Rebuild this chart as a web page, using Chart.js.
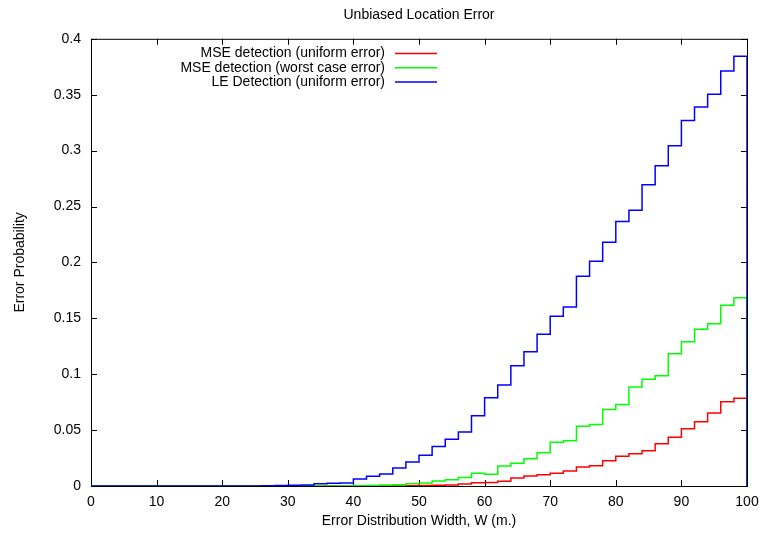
<!DOCTYPE html>
<html>
<head>
<meta charset="utf-8">
<title>Unbiased Location Error</title>
<script src="https://cdn.jsdelivr.net/npm/chart.js@4.4.1/dist/chart.umd.min.js"></script>
<style>
  html, body { margin: 0; padding: 0; background: #fff; }
</style>
</head>
<body>
<canvas id="myChart" width="763" height="536"></canvas>
<script>
// bin edges of the step curves (W in metres), last edge is where the curves drop back to 0
const binEdges = [0, 2, 4, 6, 8, 10, 12, 14, 16, 18, 20, 22, 24, 26, 28, 30, 32, 34, 36, 38,
  40, 42, 44, 46, 48, 50, 52, 54, 56, 58, 60, 62, 64, 66, 68, 70, 72, 74, 76, 78,
  80, 82, 84, 86, 88, 90, 92, 94, 96, 98, 100];

const mseUniform = [0, 0, 0, 0, 0, 0, 0, 0, 0, 0, 0, 0, 0, 0, 0, 0, 0, 0, 0, 0,
  0, 0, 0, 0, 0.0002, 0.0004, 0.0007, 0.001, 0.0018, 0.0028, 0.0032, 0.0043, 0.0072, 0.009, 0.0101, 0.0114, 0.0134, 0.017, 0.0182, 0.0226,
  0.0266, 0.0289, 0.0316, 0.0379, 0.0435, 0.0513, 0.0575, 0.0653, 0.0754, 0.0784, 0];

const mseWorst = [0, 0, 0, 0, 0, 0, 0, 0, 0, 0, 0, 0, 0, 0, 0, 0, 0, 0, 0, 0,
  0.0003, 0.0005, 0.0008, 0.0012, 0.002, 0.0027, 0.0045, 0.0056, 0.0077, 0.0115, 0.0105, 0.018, 0.0203, 0.0244, 0.0298, 0.0391, 0.0405, 0.0534, 0.0549, 0.0685,
  0.0728, 0.0886, 0.0954, 0.0987, 0.1184, 0.1291, 0.1401, 0.1452, 0.1616, 0.1684, 0];

const leUniform = [0, 0, 0, 0, 0, 0, 0, 0, 0, 0, 0, 0, 0, 0.0003, 0.0005, 0.0007, 0.001, 0.0021, 0.0024, 0.0027,
  0.0063, 0.0087, 0.0107, 0.016, 0.0214, 0.0275, 0.0353, 0.0418, 0.0483, 0.0629, 0.079, 0.0903, 0.1076, 0.1201, 0.1357, 0.1518, 0.1601, 0.1876, 0.2011, 0.2181,
  0.2366, 0.2466, 0.2695, 0.2865, 0.3044, 0.327, 0.339, 0.3503, 0.3712, 0.3843, 0];

const seriesNames = ['MSE detection (uniform error)', 'MSE detection (worst case error)', 'LE Detection (uniform error)'];
const seriesColors = ['#ff0000', '#00ff00', '#0000ff'];

const FONT = "'Liberation Sans', Arial, Helvetica, sans-serif";
Chart.defaults.color = '#000';
Chart.defaults.font.family = FONT;
Chart.defaults.font.size = 14;

function toPoints(values) {
  return binEdges.map((x, i) => ({ x: x, y: values[i] }));
}

// gnuplot style frame: box round the plot with inward ticks on all four sides
const gnuplotFrame = {
  id: 'gnuplotFrame',
  beforeDatasetsDraw(chart) {
    const { ctx, chartArea: a, scales: { x, y } } = chart;
    ctx.save();
    ctx.strokeStyle = '#000';
    ctx.lineWidth = 1;
    ctx.beginPath();
    x.ticks.forEach(t => {
      const px = Math.round(x.getPixelForValue(t.value)) + 0.5;
      ctx.moveTo(px, a.bottom); ctx.lineTo(px, a.bottom - 6);
      ctx.moveTo(px, a.top); ctx.lineTo(px, a.top + 6);
    });
    y.ticks.forEach(t => {
      const py = Math.round(y.getPixelForValue(t.value)) + 0.5;
      ctx.moveTo(a.left, py); ctx.lineTo(a.left + 6, py);
      ctx.moveTo(a.right, py); ctx.lineTo(a.right - 6, py);
    });
    ctx.stroke();
    ctx.strokeRect(a.left + 0.5, a.top + 0.5, a.right - a.left, a.bottom - a.top);
    ctx.restore();
  }
};

// key in the top left corner, text right aligned with a line sample after it
const insideKey = {
  id: 'insideKey',
  afterDraw(chart) {
    const ctx = chart.ctx;
    ctx.save();
    ctx.font = '14px ' + FONT;
    ctx.textAlign = 'right';
    ctx.textBaseline = 'middle';
    ctx.lineWidth = 1.5;
    chart.data.datasets.forEach((ds, i) => {
      const yy = 53.5 + i * 14.2;
      ctx.fillStyle = '#000';
      ctx.fillText(ds.label, 385, yy);
      ctx.strokeStyle = ds.borderColor;
      ctx.beginPath();
      ctx.moveTo(395, yy);
      ctx.lineTo(437, yy);
      ctx.stroke();
    });
    ctx.restore();
  }
};

const ctx = document.getElementById('myChart');

const myChart = new Chart(ctx, {
  type: 'line',
  data: {
    datasets: [mseUniform, mseWorst, leUniform].map((vals, i) => ({
      label: seriesNames[i],
      data: toPoints(vals),
      borderColor: seriesColors[i],
      backgroundColor: seriesColors[i],
      borderWidth: 1.5,
      pointRadius: 0,
      stepped: 'before',   // hold the value across the bin, then step at its right edge
      fill: false,
      order: 2 - i   // blue drawn on top
    }))
  },
  options: {
    responsive: false,
    animation: false,
    layout: { padding: { top: 0, right: 16, bottom: 0, left: 0 } },
    scales: {
      x: {
        type: 'linear',
        min: 0,
        max: 100,
        ticks: { stepSize: 10, padding: 8, maxRotation: 0 },
        grid: { display: false, drawTicks: false },
        border: { display: false },
        title: {
          display: true,
          text: 'Error Distribution Width, W (m.)',
          padding: { top: 0, bottom: 6 }
        },
        afterFit: s => {
          s.height = 50;
          // the "100" label may hang into the right margin
          s.paddingLeft = 0;
          s.paddingRight = 0;
        }
      },
      y: {
        type: 'linear',
        min: 0,
        max: 0.4,
        ticks: {
          stepSize: 0.05,
          padding: 10,
          callback: v => String(+v.toFixed(2))
        },
        grid: { display: false, drawTicks: false },
        border: { display: false },
        title: {
          display: true,
          text: 'Error Probability',
          padding: { top: 12, bottom: 0 }
        },
        afterFit: s => {
          s.width = 91;
          s.paddingTop = 0;
          s.paddingBottom = 0;
        }
      }
    },
    plugins: {
      legend: { display: false },
      tooltip: { enabled: false },
      title: {
        display: true,
        text: 'Unbiased Location Error',
        fullSize: false,
        font: { size: 14, weight: 'normal' },
        padding: { top: 7, bottom: 15 }
      }
    }
  },
  plugins: [gnuplotFrame, insideKey]
});
</script>
</body>
</html>
